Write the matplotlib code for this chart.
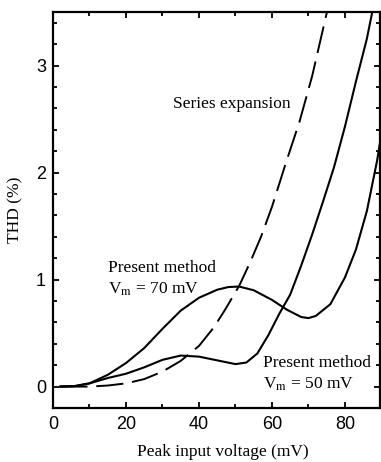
import numpy as np
import matplotlib.pyplot as plt
from matplotlib.ticker import MultipleLocator

# Present method, Vm = 70 mV
v70 = [2, 6, 10, 15, 20, 25, 30, 35, 40, 45, 48, 51, 55, 60, 64, 68, 70, 72, 76, 80, 83, 86, 88.8, 89.6]
thd70 = [0, 0.005, 0.03, 0.11, 0.22, 0.36, 0.54, 0.71, 0.83, 0.905, 0.93, 0.935, 0.90, 0.81, 0.72, 0.65, 0.64, 0.66, 0.77, 1.02, 1.28, 1.64, 2.11, 2.28]

# Present method, Vm = 50 mV
v50 = [2, 6, 10, 15, 20, 25, 30, 35, 40, 45, 50, 53, 56, 59, 62, 65, 68, 71, 74, 77, 80, 83, 86, 87.6]
thd50 = [0, 0.005, 0.03, 0.08, 0.12, 0.18, 0.25, 0.29, 0.28, 0.245, 0.21, 0.225, 0.31, 0.48, 0.68, 0.86, 1.13, 1.42, 1.73, 2.05, 2.43, 2.85, 3.25, 3.52]

# Series expansion (dashed)
vse = [2, 10, 15, 20, 25, 30, 35, 40, 44, 47, 51, 54, 57, 60, 64, 67.5, 71, 75.2]
thdse = [0, 0.0, 0.01, 0.03, 0.07, 0.14, 0.24, 0.38, 0.55, 0.71, 0.94, 1.16, 1.40, 1.68, 2.11, 2.47, 2.9, 3.52]

plt.rcParams['mathtext.fontset'] = 'stix'
serif = 'Liberation Serif'
sans = 'Liberation Sans'

fig = plt.figure(figsize=(3.81, 4.62), dpi=100)
ax = fig.add_axes([53 / 381, 54 / 462, 327 / 381, 396 / 462])

ax.plot(v70, thd70, color='black', lw=1.5)
ax.plot(v50, thd50, color='black', lw=1.5)
ax.plot(vse, thdse, color='black', lw=1.4, linestyle=(0, (14, 4.5)))

ax.set_xlim(0, 89.6)
ax.set_ylim(-0.2, 3.5)
ax.xaxis.set_major_locator(MultipleLocator(20))
ax.xaxis.set_minor_locator(MultipleLocator(10))
ax.yaxis.set_major_locator(MultipleLocator(1))
ax.yaxis.set_minor_locator(MultipleLocator(0.2))
ax.tick_params(which='both', direction='in', top=True, right=True, width=1.3)
ax.tick_params(which='major', length=4.5, labelsize=13)
ax.tick_params(which='minor', length=3)
ax.tick_params(axis='x', pad=6)
ax.tick_params(axis='y', pad=5)
for lab in ax.get_xticklabels() + ax.get_yticklabels():
    lab.set_fontfamily(sans)
for sp in ax.spines.values():
    sp.set_linewidth(1.6)

ax.set_xlabel('Peak input voltage (mV)', fontfamily=serif, fontsize=12.5)
ax.set_ylabel('THD (%)', fontfamily=serif, fontsize=12.5)
ax.xaxis.set_label_coords(0.52, -0.09)
ax.yaxis.set_label_coords(-0.092, 0.5)

ax.text(32.9, 2.64, 'Series expansion', fontfamily=serif, fontsize=12.5, va='center')
ax.text(15.1, 1.11, 'Present method', fontfamily=serif, fontsize=12.5, va='center')
ax.text(15.1, 0.91, r'V$_{\mathrm{m}}$ = 70 mV', fontfamily=serif, fontsize=12.5, va='center')
ax.text(57.5, 0.22, 'Present method', fontfamily=serif, fontsize=12.5, va='center')
ax.text(57.5, 0.02, r'V$_{\mathrm{m}}$ = 50 mV', fontfamily=serif, fontsize=12.5, va='center')

fig.savefig('out.png', dpi=100)
